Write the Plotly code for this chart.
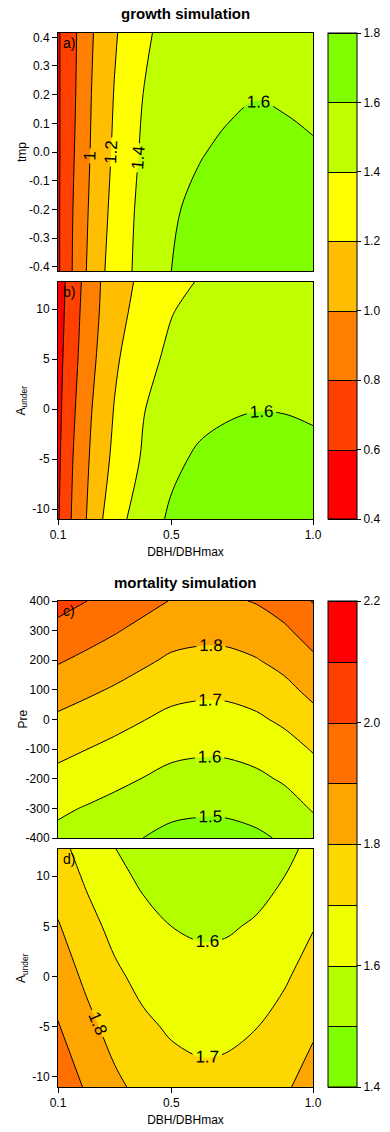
import plotly.graph_objects as go

# ---------------- data ----------------
dbh_growth = [0.1, 0.12, 0.15, 0.2, 0.25, 0.3, 0.4, 0.5, 0.6, 0.7, 0.8, 0.9, 1.0]
tmp_values = [-0.415, -0.2, 0.0, 0.2, 0.415]
growth_by_tmp = [
    [0.57, 0.67, 0.80, 1.00, 1.16, 1.29, 1.47, 1.60, 1.635, 1.655, 1.66, 1.655, 1.64],
    [0.575, 0.66, 0.79, 0.98, 1.13, 1.26, 1.46, 1.59, 1.62, 1.635, 1.64, 1.635, 1.625],
    [0.575, 0.65, 0.77, 0.96, 1.11, 1.23, 1.43, 1.53, 1.595, 1.615, 1.625, 1.62, 1.61],
    [0.575, 0.65, 0.75, 0.95, 1.09, 1.21, 1.40, 1.49, 1.55, 1.585, 1.597, 1.59, 1.575],
    [0.58, 0.64, 0.74, 0.93, 1.07, 1.18, 1.37, 1.46, 1.51, 1.55, 1.57, 1.565, 1.55],
]
aunder_growth = [-11, -5, 0, 5, 10, 12.7]
growth_by_aunder = [
    [0.58, 0.68, 0.815, 1.00, 1.18, 1.31, 1.52, 1.625, 1.655, 1.675, 1.68, 1.675, 1.66],
    [0.565, 0.65, 0.79, 0.97, 1.12, 1.245, 1.42, 1.565, 1.625, 1.645, 1.65, 1.645, 1.63],
    [0.55, 0.63, 0.76, 0.94, 1.09, 1.21, 1.39, 1.50, 1.555, 1.585, 1.597, 1.595, 1.585],
    [0.54, 0.61, 0.73, 0.90, 1.045, 1.17, 1.34, 1.44, 1.50, 1.535, 1.55, 1.55, 1.54],
    [0.53, 0.59, 0.71, 0.87, 1.01, 1.12, 1.28, 1.39, 1.45, 1.49, 1.505, 1.505, 1.495],
    [0.52, 0.58, 0.69, 0.86, 1.00, 1.10, 1.25, 1.355, 1.41, 1.45, 1.465, 1.465, 1.455],
]
dbh_mort = [0.1, 0.2, 0.3, 0.4, 0.5, 0.6, 0.65, 0.7, 0.8, 0.9, 1.0]
pre_values = [-400, -300, -200, -100, 0, 100, 200, 300, 400]
mort_by_pre = [
    [1.575, 1.551, 1.526, 1.500, 1.474, 1.465, 1.464, 1.467, 1.483, 1.513, 1.558],
    [1.616, 1.594, 1.571, 1.547, 1.523, 1.515, 1.514, 1.517, 1.533, 1.562, 1.607],
    [1.671, 1.647, 1.623, 1.598, 1.573, 1.564, 1.563, 1.566, 1.582, 1.611, 1.656],
    [1.726, 1.701, 1.676, 1.649, 1.623, 1.614, 1.613, 1.616, 1.632, 1.662, 1.707],
    [1.783, 1.757, 1.731, 1.703, 1.676, 1.666, 1.665, 1.668, 1.685, 1.718, 1.767],
    [1.846, 1.818, 1.790, 1.759, 1.730, 1.719, 1.718, 1.721, 1.740, 1.774, 1.826],
    [1.909, 1.879, 1.849, 1.817, 1.785, 1.774, 1.773, 1.776, 1.795, 1.830, 1.883],
    [1.972, 1.940, 1.908, 1.873, 1.840, 1.828, 1.827, 1.830, 1.850, 1.886, 1.941],
    [2.035, 2.001, 1.968, 1.931, 1.896, 1.884, 1.882, 1.886, 1.906, 1.943, 2.005],
]
aunder_mort = [-11, -5, 0, 5, 10, 12.7]
mort_by_aunder = [
    [1.970, 1.889, 1.821, 1.772, 1.741, 1.726, 1.726, 1.731, 1.751, 1.787, 1.840],
    [1.906, 1.829, 1.764, 1.718, 1.688, 1.674, 1.674, 1.678, 1.698, 1.734, 1.786],
    [1.855, 1.781, 1.718, 1.673, 1.644, 1.630, 1.630, 1.634, 1.654, 1.689, 1.740],
    [1.807, 1.734, 1.673, 1.629, 1.600, 1.587, 1.587, 1.591, 1.610, 1.645, 1.695],
    [1.756, 1.686, 1.626, 1.583, 1.556, 1.543, 1.543, 1.547, 1.566, 1.600, 1.649],
    [1.730, 1.661, 1.602, 1.560, 1.533, 1.520, 1.520, 1.524, 1.543, 1.576, 1.625],
]

growth_levels = [0.4, 1.8, 0.2]
mort_levels = [1.4, 2.2, 0.1]
growth_labelled = [1.0, 1.2, 1.4, 1.6]
growth_b_labelled = [1.6]
mort_c_labelled = [1.5, 1.6, 1.7, 1.8]
mort_d_labelled = [1.6, 1.7, 1.8, 1.9]
growth_colors = ["#FF0000", "#FF4000", "#FF8000", "#FFBF00", "#FFFF00", "#BFFF00", "#80FF00"]
mort_colors = ["#80FF00", "#B3FF00", "#EEFF00", "#FFD700", "#FFA500", "#FF7000", "#FF4000", "#FF0000"]

x_tickvals = [0.1, 0.5, 1.0]
x_ticktext = ["0.1", "0.5", "1.0"]
tmp_tickvals = [0.4, 0.3, 0.2, 0.1, 0.0, -0.1, -0.2, -0.3, -0.4]
tmp_ticktext = ["0.4", "0.3", "0.2", "0.1", "0.0", "-0.1", "-0.2", "-0.3", "-0.4"]
aunder_tickvals = [10, 5, 0, -5, -10]
aunder_ticktext = ["10", "5", "0", "-5", "-10"]
pre_tickvals = [400, 300, 200, 100, 0, -100, -200, -300, -400]
pre_ticktext = ["400", "300", "200", "100", "0", "-100", "-200", "-300", "-400"]
growth_cb_vals = [0.4, 0.6, 0.8, 1.0, 1.2, 1.4, 1.6, 1.8]
growth_cb_text = ["0.4", "0.6", "0.8", "1.0", "1.2", "1.4", "1.6", "1.8"]
mort_cb_vals = [1.4, 1.6, 1.8, 2.0, 2.2]
mort_cb_text = ["1.4", "1.6", "1.8", "2.0", "2.2"]

# ---------------- layout geometry ----------------
W, H = 390, 1132
FONT = "Liberation Sans, Arial, sans-serif"
X_DOM = [58 / W, 313 / W]
A_DOM = [1 - 271 / H, 1 - 33 / H]
B_DOM = [1 - 519 / H, 1 - 282 / H]
C_DOM = [1 - 838 / H, 1 - 601 / H]
D_DOM = [1 - 1087 / H, 1 - 849 / H]
YTITLE_X = 22 / W


def steps(colors):
    n = len(colors)
    out = []
    for i, c in enumerate(colors):
        out.append([i / n, c])
        out.append([(i + 1) / n, c])
    return out


def add_panel(fig, x, y, z, xa, ya, lev, colors, labelled, plain, cbar=None):
    start, end, size = lev
    base = dict(x=x, y=y, z=z, xaxis=xa, yaxis=ya, hoverinfo="skip",
                autocontour=False)
    fig.add_trace(go.Contour(
        **base, colorscale=steps(colors), zmin=start, zmax=end + 1e-9,
        contours=dict(start=start, end=end, size=size, coloring="fill",
                      showlines=False),
        line=dict(width=0), showscale=False))
    if cbar is not None:
        # invisible copy that only supplies the colour key (with level lines)
        fig.add_trace(go.Contour(
            **base, colorscale=steps(colors), zmin=start, zmax=end + 1e-9,
            contours=dict(start=start, end=end, size=size, coloring="fill",
                          showlines=True),
            line=dict(width=1, color="black"), opacity=0,
            showscale=True, colorbar=cbar))
    if plain:
        fig.add_trace(go.Contour(
            **base, contours=dict(start=plain[0], end=plain[1], size=size,
                                  coloring="none", showlabels=False),
            line=dict(color="black", width=1), showscale=False))
    # one trace per labelled level so that each label is placed independently
    for lv in labelled:
        fig.add_trace(go.Contour(
            **base, contours=dict(start=lv, end=lv, size=size,
                                  coloring="none", showlabels=True,
                                  labelfont=dict(size=17, color="black", family=FONT)),
            line=dict(color="black", width=1), showscale=False))


def colorbar(dom_top, dom_bottom, vals, text):
    return dict(x=328 / W, xanchor="left", y=(dom_top + dom_bottom) / 2,
                yanchor="middle", len=dom_top - dom_bottom, lenmode="fraction",
                thickness=29, thicknessmode="pixels", xpad=0, ypad=0,
                outlinewidth=1, outlinecolor="black", tickmode="array",
                tickvals=vals, ticktext=text, ticks="outside", ticklen=4,
                tickcolor="black", tickfont=dict(size=12, color="black", family=FONT))


fig = go.Figure()
add_panel(fig, dbh_growth, tmp_values, growth_by_tmp, "x", "y", growth_levels,
          growth_colors, growth_labelled, [0.6, 0.8],
          cbar=colorbar(A_DOM[1], B_DOM[0], growth_cb_vals, growth_cb_text))
add_panel(fig, dbh_growth, aunder_growth, growth_by_aunder, "x2", "y2", growth_levels,
          growth_colors, growth_b_labelled, [0.6, 1.4])
add_panel(fig, dbh_mort, pre_values, mort_by_pre, "x3", "y3", mort_levels,
          mort_colors, mort_c_labelled, [1.9, 2.1],
          cbar=colorbar(C_DOM[1], D_DOM[0], mort_cb_vals, mort_cb_text))
add_panel(fig, dbh_mort, aunder_mort, mort_by_aunder, "x4", "y4", mort_levels,
          mort_colors, mort_d_labelled, None)

axis_common = dict(showline=True, mirror=True, linecolor="black", linewidth=1,
                   showgrid=False, zeroline=False, ticks="outside", ticklen=5,
                   tickwidth=1, tickcolor="black", automargin=False,
                   tickfont=dict(size=12, color="black", family=FONT))


def xaxis(anchor, show):
    d = dict(axis_common, domain=X_DOM, range=[0.1, 1.0], anchor=anchor,
             tickmode="array", tickvals=x_tickvals, ticktext=x_ticktext)
    if show:
        d["title"] = dict(text="DBH/DBHmax", standoff=6,
                          font=dict(size=12, color="black", family=FONT))
    else:
        d["showticklabels"] = False
        d["ticks"] = ""
    return d


def yaxis(anchor, dom, rng, vals, text):
    return dict(axis_common, domain=dom, range=rng, anchor=anchor,
                tickmode="array", tickvals=vals, ticktext=text)


fig.update_layout(
    template="none",
    width=W, height=H, autosize=False,
    margin=dict(l=0, r=0, t=0, b=0, pad=0),
    paper_bgcolor="white", plot_bgcolor="white", showlegend=False,
    font=dict(family=FONT, size=12, color="black"),
    xaxis=xaxis("y", False),
    xaxis2=xaxis("y2", True),
    xaxis3=xaxis("y3", False),
    xaxis4=xaxis("y4", True),
    yaxis=yaxis("x", A_DOM, [-0.415, 0.415], tmp_tickvals, tmp_ticktext),
    yaxis2=yaxis("x2", B_DOM, [-11, 12.7], aunder_tickvals, aunder_ticktext),
    yaxis3=yaxis("x3", C_DOM, [-400, 400], pre_tickvals, pre_ticktext),
    yaxis4=yaxis("x4", D_DOM, [-11, 12.7], aunder_tickvals, aunder_ticktext),
)

xmid = (X_DOM[0] + X_DOM[1]) / 2
annotations = [
    dict(text="<b>growth simulation</b>", x=xmid, y=1 - 14 / H),
    dict(text="<b>mortality simulation</b>", x=xmid, y=1 - 582 / H),
]
for a in annotations:
    a.update(xref="paper", yref="paper", showarrow=False, xanchor="center",
             yanchor="middle", font=dict(size=15, color="black", family=FONT))
# y-axis titles, at a fixed distance from the figure edge as in the original
for title, dom in [("tmp", A_DOM), ("A<sub>under</sub>", B_DOM),
                   ("Pre", C_DOM), ("A<sub>under</sub>", D_DOM)]:
    annotations.append(dict(text=title, xref="paper", yref="paper",
                            x=YTITLE_X, y=(dom[0] + dom[1]) / 2, textangle=-90,
                            xanchor="center", yanchor="middle", showarrow=False,
                            font=dict(size=12, color="black", family=FONT)))
for lab, xr, yr in [("a)", "x", "y"), ("b)", "x2", "y2"), ("c)", "x3", "y3"), ("d)", "x4", "y4")]:
    annotations.append(dict(text=lab, xref=xr + " domain", yref=yr + " domain",
                            x=0.01, y=1.0, xanchor="left", yanchor="top",
                            showarrow=False,
                            font=dict(size=14, color="black", family=FONT)))
fig.update_layout(annotations=annotations)

fig.write_html("out.html", config={"displayModeBar": False},
               post_script="document.body.style.margin='0';document.body.style.padding='0';")
